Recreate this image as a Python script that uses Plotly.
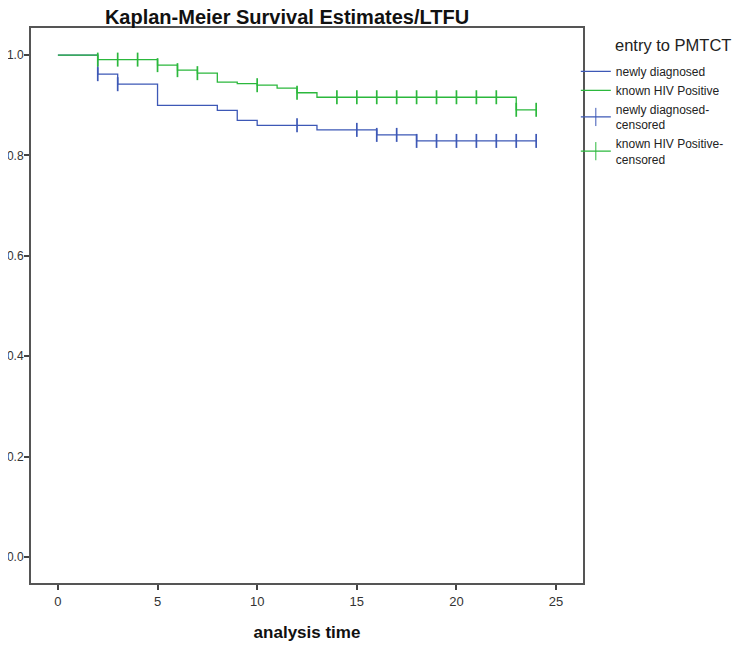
import plotly.graph_objects as go

# ---- data ----
nd_time = [0, 2, 3, 5, 8, 9, 10, 13, 16, 18, 24]
nd_surv = [1.0, 0.962, 0.942, 0.900, 0.890, 0.870, 0.860, 0.851, 0.841, 0.829, 0.829]
nd_censor = [2, 3, 12, 15, 16, 17, 18, 19, 20, 21, 22, 23, 24]

kp_time = [0, 2, 5, 6, 7, 8, 9, 10, 11, 12, 13, 23, 24]
kp_surv = [1.0, 0.991, 0.980, 0.970, 0.964, 0.946, 0.943, 0.940, 0.934, 0.925, 0.916, 0.891, 0.891]
kp_censor = [2, 3, 4, 5, 6, 7, 10, 12, 14, 15, 16, 17, 18, 19, 20, 21, 22, 23, 24]

x_ticks = [0, 5, 10, 15, 20, 25]
y_ticks = [0.0, 0.2, 0.4, 0.6, 0.8, 1.0]

BLUE = "#3d58b6"
GREEN = "#2bb83c"
FONT = "Liberation Sans, Arial"


def surv_at(times, surv, t):
    val = surv[0]
    for ti, si in zip(times, surv):
        if ti <= t:
            val = si
    return val


fig = go.Figure()

fig.add_trace(go.Scatter(x=nd_time, y=nd_surv, mode="lines", line_shape="hv",
                         line=dict(color=BLUE, width=1.3), name="newly diagnosed"))
fig.add_trace(go.Scatter(x=kp_time, y=kp_surv, mode="lines", line_shape="hv",
                         line=dict(color=GREEN, width=1.3), name="known HIV Positive"))

# censored marks
fig.add_trace(go.Scatter(x=nd_censor, y=[surv_at(nd_time, nd_surv, t) for t in nd_censor],
                         mode="markers", showlegend=False,
                         marker=dict(symbol="line-ns", size=10, line=dict(color=BLUE, width=1.7))))
fig.add_trace(go.Scatter(x=kp_censor, y=[surv_at(kp_time, kp_surv, t) for t in kp_censor],
                         mode="markers", showlegend=False,
                         marker=dict(symbol="line-ns", size=10, line=dict(color=GREEN, width=1.7))))

# legend entries for censored
fig.add_trace(go.Scatter(x=[None], y=[None], mode="lines+markers", name="newly diagnosed-<br>censored",
                         line=dict(color=BLUE, width=1.2),
                         marker=dict(symbol="line-ns", size=13, line=dict(color=BLUE, width=1))))
fig.add_trace(go.Scatter(x=[None], y=[None], mode="lines+markers", name="known HIV Positive-<br>censored",
                         line=dict(color=GREEN, width=1.2),
                         marker=dict(symbol="line-ns", size=13, line=dict(color=GREEN, width=1))))

axis_common = dict(showline=True, linecolor="#555555", linewidth=2, mirror=True,
                   ticks="outside", ticklen=5, tickwidth=1.5, tickcolor="#444444",
                   showgrid=False, zeroline=False, automargin=False)

fig.update_layout(
    width=742, height=643,
    paper_bgcolor="white", plot_bgcolor="white",
    margin=dict(l=23, r=167, t=20, b=68),
    title=dict(text="<b>Kaplan-Meier Survival Estimates/LTFU</b>", x=0.376, xanchor="center",
               y=1.0, yref="container", yanchor="top", pad=dict(t=2),
               font=dict(family=FONT, size=20, color="#111111")),
    xaxis=dict(range=[-1.35, 26.35], tickvals=x_ticks, ticktext=[str(v) for v in x_ticks],
               tickfont=dict(family=FONT, size=13, color="#333333"),
               title=dict(text="<b>analysis time</b>", standoff=19,
                          font=dict(family=FONT, size=17, color="#111111")),
               **axis_common),
    yaxis=dict(range=[-0.052, 1.054], tickvals=y_ticks, ticktext=[f"{v:.1f}" for v in y_ticks],
               tickfont=dict(family=FONT, size=12, color="#333333"), ticklabelstandoff=-2,
               **axis_common),
    legend=dict(x=0.987, xanchor="left", y=0.948, yanchor="top",
                bgcolor="rgba(0,0,0,0)", tracegroupgap=0, itemwidth=30,
                font=dict(family=FONT, size=12, color="#222222")),
    annotations=[dict(text="entry to PMTCT", xref="paper", yref="paper",
                      x=1.163, y=0.969, xanchor="center", yanchor="middle", showarrow=False,
                      font=dict(family=FONT, size=16.5, color="#222222"))],
)

fig.write_html("out.html")
